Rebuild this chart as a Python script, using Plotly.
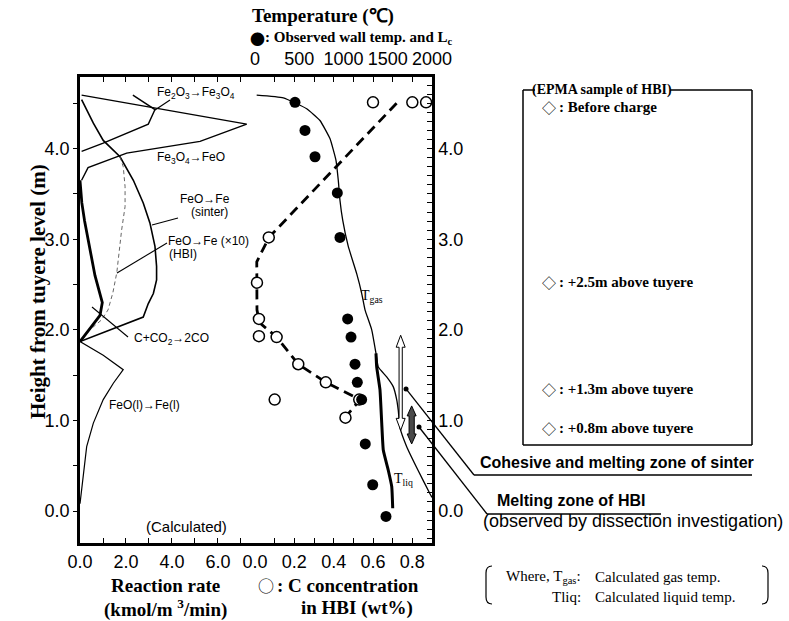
import plotly.graph_objects as go

W, H = 789, 621
SANS = "Liberation Sans, Arial, sans-serif"
SERIF = "Liberation Serif, Times New Roman, serif"
SYMB = "Noto Sans CJK JP, DejaVu Sans, sans-serif"

# ---------------- data ----------------
# Left panel: calculated reaction rates (kmol/m3/min) against height (m)
h_fe2o3 = [3.97, 4.06, 4.27, 4.43, 4.59]
r_fe2o3 = [0.07, 1.01, 2.97, 3.26, 2.30]

h_fe3o4 = [3.65, 3.79, 3.95, 4.08, 4.27, 4.59]
r_fe3o4 = [0.07, 0.35, 2.03, 5.22, 7.25, 0.07]

h_sinter = [4.54, 4.28, 4.09, 3.91, 3.65, 3.40, 3.18, 2.92, 2.70, 2.55, 2.40, 2.29, 2.14, 1.87]
r_sinter = [0.07, 0.58, 1.01, 1.74, 2.32, 2.75, 3.04, 3.26, 3.33, 3.33, 3.19, 2.97, 2.75, 0.0]

h_hbi = [3.91, 3.80, 3.58, 3.36, 3.10, 2.77, 2.63, 2.41, 2.22, 2.11, 2.00, 1.89]
r_hbi = [1.74, 1.88, 1.96, 1.96, 1.81, 1.67, 1.60, 1.43, 1.22, 0.94, 0.43, 0.07]

h_sol = [3.65, 3.40, 3.20, 2.99, 2.77, 2.60, 2.30, 2.16, 1.87]
r_sol = [0.0, 0.08, 0.20, 0.36, 0.51, 0.65, 0.97, 0.87, 0.0]

h_liq = [1.87, 1.72, 1.56, 1.41, 1.23, 0.97, 0.71, 0.38, 0.08]
r_liq = [0.0, 1.01, 1.88, 1.45, 1.01, 0.58, 0.29, 0.14, 0.0]

# Middle panel: temperatures (deg C)
h_tgas = [4.59, 4.56, 4.44, 4.31, 4.11, 3.87, 3.65, 3.43, 3.21, 2.92, 2.62, 2.40, 2.22,
          2.00, 1.74, 1.59, 1.48, 1.37, 1.23, 1.11, 0.92, 0.71, 0.45, 0.19, 0.15]
t_tgas = [19, 320, 584, 734, 847, 915, 941, 960, 991, 1054, 1149, 1206, 1243,
          1319, 1367, 1393, 1488, 1563, 1601, 1619, 1638, 1714, 1842, 1977, 2000]

h_tliq = [1.74, 1.59, 1.34, 0.97, 0.67, 0.45, 0.27, 0.03]
t_tliq = [1367, 1375, 1412, 1432, 1450, 1506, 1545, 1556]

h_wall = [4.51, 4.20, 3.91, 3.51, 3.02, 2.12, 1.92, 1.62, 1.42, 1.23, 0.74, 0.29, -0.06]
t_wall = [452, 565, 678, 930, 960, 1047, 1085, 1130, 1156, 1205, 1246, 1330, 1480]

# Middle panel: C concentration in HBI (wt%)
h_c = [4.51, 4.51, 4.51, 3.02, 2.52, 2.12, 1.93, 1.92, 1.62, 1.42, 1.23, 1.23, 1.03]
c_c = [0.60, 0.80, 0.87, 0.07, 0.01, 0.02, 0.02, 0.11, 0.22, 0.36, 0.10, 0.53, 0.46]

h_ctrend = [4.50, 3.02, 2.75, 2.22, 2.08, 1.92, 1.62, 1.42, 1.23, 1.03]
c_ctrend = [0.72, 0.071, 0.009, 0.01, 0.022, 0.11, 0.22, 0.36, 0.534, 0.458]

# Observed zones (m): sinter cohesive/melting zone and HBI melting zone
zone_sinter = [1.94, 0.89]
zone_hbi = [1.16, 0.74]

rate_ticks = [0, 1, 2, 3, 4, 5, 6, 7]
rate_text = ["0.0", "", "2.0", "", "4.0", "", "6.0", ""]
c_ticks = [0.0, 0.1, 0.2, 0.3, 0.4, 0.5, 0.6, 0.7, 0.8, 0.9]
c_text = ["0.0", "", "0.2", "", "0.4", "", "0.6", "", "0.8", ""]
temp_ticks = [0, 500, 1000, 1500, 2000]
h_major = [0, 1, 2, 3, 4]

# ---------------- geometry helpers ----------------
Y_RANGE = [-0.353, 4.79]
X1_RANGE = [0, 7.61]
X2_RANGE = [0, 0.9]
T_RANGE = [0, 2000]
LEFT, MID, RIGHT = 80, 255, 432
TOP, BOT = 77, 543


def px(x):
    return x / W


def py(y):
    return 1 - y / H


def x2_px(c):
    return MID + (c - X2_RANGE[0]) / (X2_RANGE[1] - X2_RANGE[0]) * (RIGHT - MID)


def y_px(h):
    return BOT - (h - Y_RANGE[0]) / (Y_RANGE[1] - Y_RANGE[0]) * (BOT - TOP)


fig = go.Figure()

# ---------------- left panel ----------------
fig.add_trace(go.Scatter(x=r_fe2o3, y=h_fe2o3, mode="lines", line=dict(color="black", width=1.4), xaxis="x", yaxis="y"))
fig.add_trace(go.Scatter(x=r_fe3o4, y=h_fe3o4, mode="lines", line=dict(color="black", width=1.4), xaxis="x", yaxis="y"))
fig.add_trace(go.Scatter(x=r_sinter, y=h_sinter, mode="lines", line=dict(color="black", width=1.6), xaxis="x", yaxis="y"))
fig.add_trace(go.Scatter(x=r_hbi, y=h_hbi, mode="lines", line=dict(color="#555555", width=0.9, dash="4px,3px"), xaxis="x", yaxis="y"))
fig.add_trace(go.Scatter(x=r_sol, y=h_sol, mode="lines", line=dict(color="black", width=2.8), xaxis="x", yaxis="y"))
fig.add_trace(go.Scatter(x=r_liq, y=h_liq, mode="lines", line=dict(color="black", width=1.2), xaxis="x", yaxis="y"))

# ---------------- middle panel ----------------
fig.add_trace(go.Scatter(x=t_tgas, y=h_tgas, mode="lines", line=dict(color="black", width=1.3, shape="spline", smoothing=0.4), xaxis="x3", yaxis="y2"))
fig.add_trace(go.Scatter(x=t_tliq, y=h_tliq, mode="lines", line=dict(color="black", width=3, shape="spline", smoothing=0.4), xaxis="x3", yaxis="y2"))
fig.add_trace(go.Scatter(x=c_ctrend, y=h_ctrend, mode="lines", line=dict(color="black", width=2.8, dash="10px,6px"), xaxis="x2", yaxis="y2"))
fig.add_trace(go.Scatter(x=c_c, y=h_c, mode="markers", marker=dict(symbol="circle", size=11, color="white", line=dict(color="black", width=1.5)), xaxis="x2", yaxis="y2", cliponaxis=False))
fig.add_trace(go.Scatter(x=t_wall, y=h_wall, mode="markers", marker=dict(symbol="circle", size=11, color="black"), xaxis="x3", yaxis="y2", cliponaxis=False))

# ---------------- shapes ----------------
shapes = []


def seg(x0, y0, x1, y1, w=1.3, color="black"):
    shapes.append(dict(type="line", xref="paper", yref="paper", x0=px(x0), y0=py(y0), x1=px(x1), y1=py(y1),
                       line=dict(color=color, width=w)))


def double_arrow(c, h_top, h_bot, fill, hw, bw, hl):
    cx = x2_px(c)
    yt, yb = y_px(h_top), y_px(h_bot)
    pts = [(cx, yt), (cx + hw, yt + hl), (cx + bw, yt + hl), (cx + bw, yb - hl), (cx + hw, yb - hl), (cx, yb),
           (cx - hw, yb - hl), (cx - bw, yb - hl), (cx - bw, yt + hl), (cx - hw, yt + hl)]
    path = "M " + " L ".join(f"{px(a):.5f},{py(b):.5f}" for a, b in pts) + " Z"
    shapes.append(dict(type="path", xref="paper", yref="paper", path=path, fillcolor=fill,
                       line=dict(color="black", width=1)))


double_arrow(0.7407, zone_sinter[0], zone_sinter[1], "white", 4.5, 1.6, 12)
double_arrow(0.7966, zone_hbi[0], zone_hbi[1], "#4a4a4a", 4.5, 2.6, 10)

# leaders in the reaction-rate panel
seg(155, 110, 170, 100, 1.1)
seg(178, 218, 152, 225, 1.1)
seg(167, 243, 117, 273, 1.1)
seg(128, 337, 92, 307, 1.1)

# zone leaders with dots
d1 = (x2_px(0.768), y_px(1.347))
d2 = (x2_px(0.834), y_px(0.927))
for (dx, dy), (ex, ey), end in [(d1, (474, 475), 752), (d2, (487, 514), 661)]:
    seg(dx, dy, ex, ey, 1.3)
    seg(ex, ey, end, ey, 1.3)
    shapes.append(dict(type="circle", xref="paper", yref="paper", x0=px(dx - 2.5), x1=px(dx + 2.5),
                       y0=py(dy + 2.5), y1=py(dy - 2.5), fillcolor="black", line=dict(color="black", width=0)))

# EPMA sample box
seg(523, 90, 523, 445, 1.5)
seg(752, 90, 752, 445, 1.5)
seg(523, 445, 752, 445, 1.5)
seg(523, 90, 535, 90, 1.5)
seg(670, 90, 752, 90, 1.5)

# brackets around the note
for x_edge, sgn in [(486, 1), (768, -1)]:
    path = (f"M {px(x_edge + 6 * sgn):.5f},{py(566):.5f} Q {px(x_edge):.5f},{py(566):.5f} {px(x_edge):.5f},{py(573):.5f} "
            f"L {px(x_edge):.5f},{py(597):.5f} Q {px(x_edge):.5f},{py(604):.5f} {px(x_edge + 6 * sgn):.5f},{py(604):.5f}")
    shapes.append(dict(type="path", xref="paper", yref="paper", path=path, line=dict(color="black", width=1.2)))

# ---------------- text ----------------
ann = []


def txt(x, y, s, size, fam=SANS, xa="left", ya="middle", angle=0):
    ann.append(dict(x=px(x), y=py(y), xref="paper", yref="paper", text=s, showarrow=False, xanchor=xa,
                    yanchor=ya, textangle=angle, font=dict(family=fam, size=size, color="black")))


txt(323, 16, "<b>Temperature (℃)</b>", 19, SERIF, "center")
txt(248, 38, "●", 15, SYMB)
txt(263, 38, "<b>: Observed wall temp. and L<sub>c</sub></b>", 15, SERIF)

txt(155, 93, "Fe<sub>2</sub>O<sub>3</sub>→Fe<sub>3</sub>O<sub>4</sub>", 12)
txt(155, 158, "Fe<sub>3</sub>O<sub>4</sub>→FeO", 12)
txt(178, 199, "FeO→Fe", 12)
txt(189, 212, "(sinter)", 12)
txt(166, 241, "FeO→Fe (×10)", 12)
txt(167, 254, "(HBI)", 12)
txt(132, 339, "C+CO<sub>2</sub>→2CO", 12)
txt(107, 405, "FeO(l)→Fe(l)", 12)
txt(144, 526, "(Calculated)", 15)

txt(359, 296, "T<sub>gas</sub>", 14, SERIF)
txt(392, 479, "T<sub>liq</sub>", 14, SERIF)

txt(38, 292, "<b>Height from tuyere level (m)</b>", 21, SERIF, "center", "middle", -90)

txt(165, 585, "<b>Reaction rate</b>", 19, SERIF, "center")
txt(165, 608, "<b>(kmol/m <sup>3</sup>/min)</b>", 19, SERIF, "center")
txt(256, 585, "○", 16, SYMB)
txt(275, 585, "<b>: C concentration</b>", 19, SERIF)
txt(357, 608, "<b>in HBI (wt%)</b>", 19, SERIF, "center")

txt(602, 90, "<b>(EPMA sample of HBI)</b>", 14, SERIF, "center")
for y_item, label in [(107, "Before charge"), (282, "+2.5m above tuyere"),
                      (389, "+1.3m above tuyere"), (428, "+0.8m above tuyere")]:
    txt(540, y_item, "◇", 14, SYMB)
    txt(557, y_item, f"<b>: {label}</b>", 15, SERIF)

txt(478, 462, "<b>Cohesive and melting zone of sinter</b>", 16)
txt(495, 500, "<b>Melting zone of HBI</b>", 16)
txt(481, 521, "(observed by dissection investigation)", 18)

txt(583, 577, "Where, T<sub>gas</sub>:", 15, SERIF, "right")
txt(593, 577, "Calculated gas temp.", 15, SERIF)
txt(583, 597, "Tliq:", 15, SERIF, "right")
txt(593, 597, "Calculated liquid temp.", 15, SERIF)

# ---------------- axes ----------------
tickfont = dict(family=SANS, size=18, color="black")
common = dict(showgrid=False, zeroline=False, linecolor="black", tickcolor="black", automargin=False,
              tickfont=tickfont)
h_minor = [round(0.5 * i, 1) for i in range(10)]
h_fine = [round(0.1 * i, 1) for i in range(-3, 48)]

fig.update_layout(
    width=W, height=H, margin=dict(l=0, r=0, t=0, b=0), paper_bgcolor="white", plot_bgcolor="white",
    showlegend=False, shapes=shapes, annotations=ann,
    xaxis=dict(domain=[px(LEFT), px(MID)], range=X1_RANGE, anchor="y", tickvals=rate_ticks, ticktext=rate_text,
               ticks="inside", ticklen=5, tickwidth=1.3, showline=True, linewidth=2.5, mirror="allticks",
               ticklabelstandoff=1, **common),
    yaxis=dict(domain=[py(BOT), py(TOP)], range=Y_RANGE, anchor="x", tickvals=h_minor,
               ticktext=[f"{v:.1f}" if v in h_major else "" for v in h_minor],
               ticks="outside", ticklen=4, tickwidth=1.3, showline=True, linewidth=2.5, **common),
    xaxis2=dict(domain=[px(MID), px(RIGHT)], range=X2_RANGE, anchor="y2", tickvals=c_ticks, ticktext=c_text,
                ticks="inside", ticklen=5, tickwidth=1.3, showline=True, linewidth=2.5, mirror="allticks",
                ticklabelstandoff=1, **common),
    yaxis2=dict(domain=[py(BOT), py(TOP)], range=Y_RANGE, anchor="x2", side="right", tickvals=h_fine,
                ticktext=[f"{v:.1f}" if v in h_major else "" for v in h_fine],
                ticks="inside", ticklen=5, tickwidth=1.3, showline=True, linewidth=2.5, **common),
    yaxis3=dict(overlaying="y2", anchor="x2", side="left", range=Y_RANGE, tickvals=h_minor, showticklabels=False,
                ticks="inside", ticklen=6, tickwidth=1.3, showline=True, linewidth=1.5, **common),
    xaxis3=dict(overlaying="x2", side="top", anchor="free", position=py(69), range=T_RANGE, tickvals=temp_ticks,
                ticks="", showline=False, **common),
)

fig.write_html("out.html")
